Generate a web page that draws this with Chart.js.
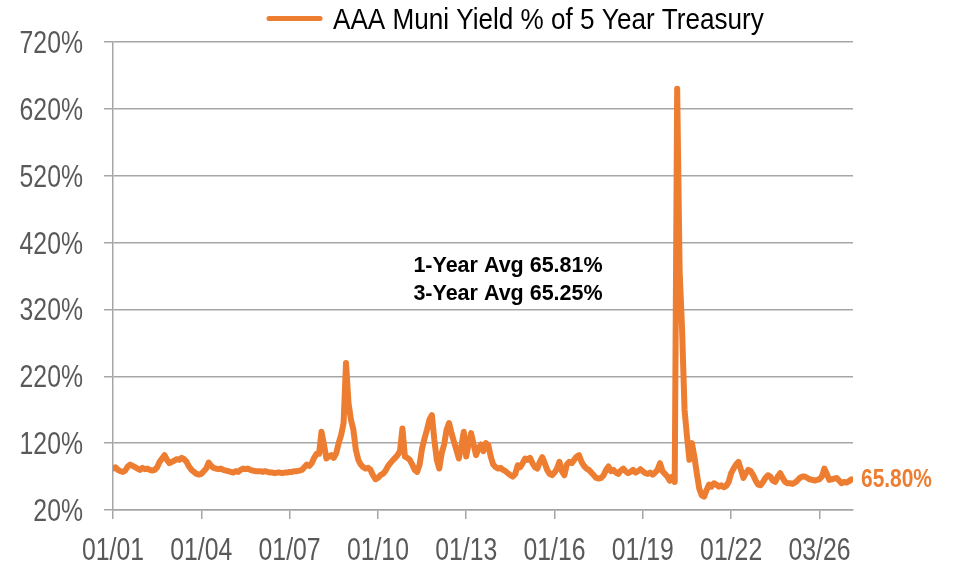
<!DOCTYPE html>
<html>
<head>
<meta charset="utf-8">
<script src="https://cdn.jsdelivr.net/npm/chart.js@4.4.1/dist/chart.umd.min.js"></script>
<style>
  html, body { margin: 0; padding: 0; background: #fff; }
  #wrap { width: 957px; height: 566px; }
</style>
</head>
<body>
<div id="wrap"><canvas id="myChart" width="957" height="566"></canvas></div>
<script>
// monthly ratio of AAA muni yield to 5y treasury (%), Jan 2001 .. Feb 2026
var ratio = [
  82, 84, 80, 78, 77, 79, 85, 88, 86, 84, 82, 80,         // 2001
  83, 81, 82, 80, 79, 80, 84, 92, 97, 102, 95, 90,        // 2002
  92, 94, 96, 95, 98, 96, 92, 85, 80, 77, 74, 73,         // 2003
  74, 78, 82, 91, 86, 83, 82, 81, 82, 80, 79, 78,         // 2004
  77, 76, 78, 77, 80, 82, 81, 82, 80, 79, 78, 78,         // 2005
  78, 77, 78, 77, 76, 76, 75, 76, 76, 75, 76, 76,         // 2006
  77, 77, 78, 78, 79, 80, 84, 88, 86, 90, 98, 104,        // 2007
  104, 137, 118, 97, 100, 102, 98, 105, 120, 132, 150, 240, // 2008
  180, 155, 140, 110, 95, 88, 84, 82, 83, 80, 72, 66,     // 2009
  68, 72, 74, 78, 85, 90, 94, 98, 102, 108, 142, 100,     // 2010
  98, 95, 88, 80, 77, 88, 112, 127, 140, 155, 162, 125,   // 2011
  95, 82, 105, 118, 140, 150, 135, 122, 110, 97, 115, 137, // 2012
  100, 120, 135, 118, 102, 112, 118, 108, 120, 117, 100, 88, // 2013
  84, 82, 83, 80, 78, 75, 72, 70, 74, 87, 84, 90,         // 2014
  97, 95, 98, 90, 84, 82, 92, 99, 90, 80, 74, 72,         // 2015
  76, 82, 92, 78, 72, 88, 92, 90, 95, 100, 102, 92,       // 2016
  86, 82, 80, 76, 72, 68, 67, 68, 72, 80, 85, 78,         // 2017
  80, 76, 74, 79, 82, 78, 75, 77, 80, 76, 78, 81,         // 2018
  78, 75, 74, 76, 73, 76, 80, 90, 78, 74, 70, 64,         // 2019
  70, 62, 650, 377, 290, 170, 130, 95, 120, 100, 75, 52,  // 2020
  42, 40, 50, 58, 55, 60, 58, 55, 57, 54, 56, 62,         // 2021
  75, 82, 88, 92, 80, 68, 75, 80, 78, 72, 64, 58,         // 2022
  57, 62, 68, 72, 70, 64, 62, 70, 75, 68, 62, 60,         // 2023
  60, 59, 61, 64, 68, 70, 70, 68, 66, 65, 64, 65,         // 2024
  66, 70, 82, 74, 65, 66, 67, 68, 64, 60, 62, 61,         // 2025
  63, 65.8                                                // 2026
];
var xTickValues = [0, 3, 6, 9, 12, 15, 18, 21, 24];
var xTickLabels = ['01/01', '01/04', '01/07', '01/10', '01/13', '01/16', '01/19', '01/22', '03/26'];
var yTicks = [20, 120, 220, 320, 420, 520, 620, 720];
var seriesName = 'AAA Muni Yield % of 5 Year Treasury';
var avgLines = ['1-Year Avg 65.81%', '3-Year Avg 65.25%'];
var lastLabel = '65.80%';

var ORANGE = '#ED7D31';
var GRID = '#A6A6A6';
var TICKTXT = '#595959';
var SANS = "'Liberation Sans', Arial, sans-serif";

var points = ratio.map(function(v, i) { return { x: i / 12, y: v }; });

// text squeezed horizontally, the original uses a narrow face
function narrowText(c, txt, x, y, align, sx) {
  c.save();
  c.translate(x, y);
  c.scale(sx, 1);
  c.textAlign = align;
  c.fillText(txt, 0, 0);
  c.restore();
}

var extras = {
  id: 'extras',
  afterDraw: function(chart) {
    var c = chart.ctx;
    var area = chart.chartArea;
    var xs = chart.scales.x, ys = chart.scales.y;
    c.save();
    c.textBaseline = 'alphabetic';

    // axis labels
    c.fillStyle = TICKTXT;
    c.font = '31px ' + SANS;
    yTicks.forEach(function(v) {
      narrowText(c, v + '%', 83, ys.getPixelForValue(v) + 11, 'right', 0.8);
    });
    xTickValues.forEach(function(v, i) {
      narrowText(c, xTickLabels[i], xs.getPixelForValue(v), 560, 'center', 0.8);
    });

    // legend
    c.strokeStyle = ORANGE;
    c.lineWidth = 5;
    c.lineCap = 'round';
    c.beginPath();
    c.moveTo(269, 18.5);
    c.lineTo(320, 18.5);
    c.stroke();
    c.fillStyle = '#000';
    c.font = '29px ' + SANS;
    narrowText(c, seriesName, 333, 28.5, 'left', 0.9);

    // averages
    c.font = 'bold 21.5px ' + SANS;
    c.textAlign = 'center';
    c.fillText(avgLines[0], 508, 271.5);
    c.fillText(avgLines[1], 508, 300);

    // last value label
    var yPix = ys.getPixelForValue(ratio[ratio.length - 1]);
    c.fillStyle = ORANGE;
    c.font = 'bold 25.5px ' + SANS;
    narrowText(c, lastLabel, area.right + 8, yPix + 8, 'left', 0.82);
    c.restore();
  }
};

var ctx = document.getElementById('myChart').getContext('2d');
var chart = new Chart(ctx, {
  type: 'line',
  data: {
    datasets: [{
      label: seriesName,
      data: points,
      borderColor: ORANGE,
      backgroundColor: ORANGE,
      borderWidth: 6,
      borderJoinStyle: 'round',
      borderCapStyle: 'round',
      pointRadius: 0,
      tension: 0
    }]
  },
  options: {
    responsive: false,
    animation: false,
    layout: { padding: { top: 42, right: 104, left: 0, bottom: 0 } },
    plugins: { legend: { display: false }, tooltip: { enabled: false } },
    scales: {
      x: {
        type: 'linear',
        min: 0,
        max: 25.14,
        afterBuildTicks: function(scale) {
          scale.ticks = xTickValues.map(function(v) { return { value: v }; });
        },
        afterFit: function(scale) { scale.height = 56; },
        grid: { drawOnChartArea: false, color: GRID, lineWidth: 1.5, tickLength: 9 },
        border: { color: GRID, width: 1.5 },
        ticks: {
          autoSkip: false,
          maxRotation: 0,
          color: 'rgba(0,0,0,0)',
          font: { family: SANS, size: 24 },
          callback: function(val, idx) { return xTickLabels[idx]; }
        }
      },
      y: {
        min: 20,
        max: 720,
        afterBuildTicks: function(scale) {
          scale.ticks = yTicks.map(function(v) { return { value: v }; });
        },
        afterFit: function(scale) { scale.width = 113; },
        grid: { color: GRID, lineWidth: 1.5, tickLength: 9 },
        border: { color: GRID, width: 1.5 },
        ticks: {
          color: 'rgba(0,0,0,0)',
          font: { family: SANS, size: 24 },
          callback: function(val) { return val + '%'; }
        }
      }
    }
  },
  plugins: [extras]
});
</script>
</body>
</html>
